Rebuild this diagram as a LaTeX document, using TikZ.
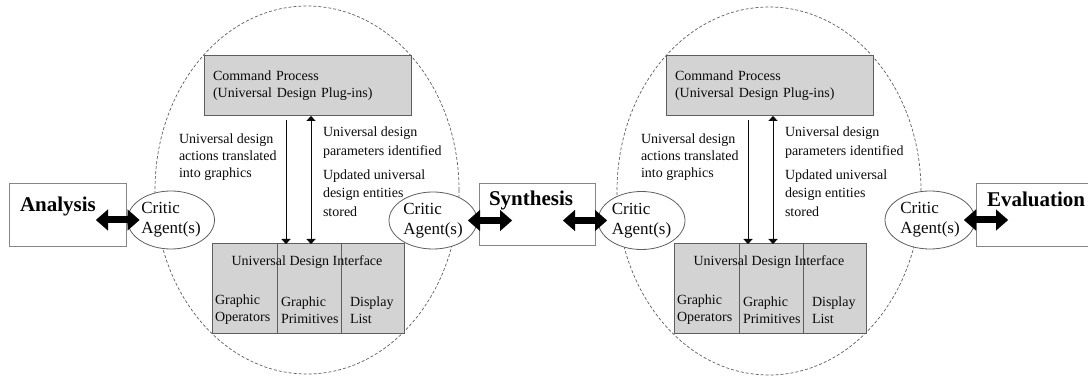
\documentclass[tikz,border=0pt]{standalone}
\usepackage{fontspec}
\setmainfont{Liberation Serif}
\usetikzlibrary{arrows.meta,shapes.geometric,calc}

\definecolor{boxgray}{HTML}{D3D3D3}
\definecolor{edgegray}{HTML}{5E5E5E}
\definecolor{inkgray}{HTML}{0A0A0A}

\begin{document}
\begin{tikzpicture}[x=1pt,y=-1pt,
  every node/.style={inner sep=0pt, outer sep=0pt},
  phasebox/.style={rectangle, draw=edgegray!75, line width=0.9pt, fill=white},
  phasetext/.style={font=\fontsize{21}{24}\selectfont\bfseries, text=black, anchor=base west},
  critic/.style={ellipse, draw=edgegray, line width=0.8pt, fill=white,
    minimum width=87pt, minimum height=58pt, align=left,
    font=\fontsize{17}{20}\selectfont, text=inkgray},
  cyclering/.style={draw=edgegray, dash pattern=on 3pt off 2pt, line width=0.7pt},
  procbox/.style={rectangle, draw=edgegray, line width=1pt, fill=boxgray},
  small/.style={font=\fontsize{14}{17}\selectfont, text=inkgray, align=left},
  smallwide/.style={font=\fontsize{14}{18.5}\selectfont, text=inkgray, align=left},
  bigarrow/.style={line width=7pt,
    {Triangle[length=12pt,width=21pt,line width=0.01pt]}-{Triangle[length=12pt,width=21pt,line width=0.01pt]}},
  downflow/.style={draw=inkgray, line width=0.8pt, shorten <=4pt,
    -{Triangle[length=5pt,width=9pt,line width=0.01pt]}},
  bothflow/.style={draw=inkgray, line width=0.8pt,
    {Triangle[length=5pt,width=9pt,line width=0.01pt]}-{Triangle[length=5pt,width=9pt,line width=0.01pt]}}
]
\useasboundingbox (0,0) rectangle (1088,379);

% the two design cycles (dashed)
\draw[cyclering] (307,190) ellipse [x radius=152, y radius=184];
\draw[cyclering] (769,191) ellipse [x radius=152, y radius=184];

% phase boxes
\node[phasebox, minimum width=117pt, minimum height=63pt] (ana) at (67.5,214.5) {};
\node[phasetext] (anat) at (20,212) {Analysis};
\node[phasebox, minimum width=116pt, minimum height=62pt] (syn) at (537,214) {};
\node[phasetext] (synt) at (489,206) {Synthesis};
\node[phasebox, minimum width=150pt, minimum height=63pt] (eva) at (1051,214.5) {};
\node[phasetext] (evat) at (987,207) {Evaluation};

% critic agents
\node[critic] (cr1) at (171,220) {Critic\\Agent(s)};
\node[critic, minimum width=88pt, minimum height=57pt] (cr2) at (433,220.5) {Critic\\Agent(s)};
\node[critic] (cr3) at (641.5,220.5) {Critic\\Agent(s)};
\node[critic, minimum width=90pt] (cr4) at (930,220) {Critic\\Agent(s)};

% two-way links between phases and critics
\draw[bigarrow] ($(ana.east |- cr1.west)+(-30,0)$) -- ($(cr1.west)+(12,0)$);
\draw[bigarrow] ($(cr2.east)+(-9,0)$) -- ($(cr2.east -| syn.west)+(33,0)$);
\draw[bigarrow] ($(syn.east |- cr3.west)+(-32,0)$) -- ($(cr3.west)+(9,0)$);
\draw[bigarrow] ($(cr4.east)+(-11,0)$) -- ($(cr4.east -| eva.west)+(32,0)$);

% inside each cycle: command process and universal design interface
\foreach \u/\dx in {1/0, 2/462} {
  \node[procbox, minimum width=207pt, minimum height=60pt, text width=189pt,
        small, font=\fontsize{14}{17}\selectfont] (cmd\u) at (307.5+\dx,86)
        {Command Process\\(Universal Design Plug-ins)};

  \node[procbox, minimum width=65pt, minimum height=90pt] (op\u) at (244.5+\dx,289) {};
  \node[procbox, minimum width=64pt, minimum height=90pt] (prim\u) at (309+\dx,289) {};
  \node[procbox, minimum width=63pt, minimum height=90pt] (disp\u) at (372.5+\dx,289) {};

  \node[small] (udi\u) at (307+\dx,262) {Universal Design Interface};
  \node[small, anchor=west] (opt\u) at (215+\dx,310) {Graphic\\Operators};
  \node[small, anchor=west] (primt\u) at (281+\dx,310) {Graphic\\Primitives};
  \node[small, anchor=west] (dispt\u) at (350+\dx,310) {Display\\List};

  \draw[downflow] ([xshift=-21.5pt]cmd\u.south) -- ([xshift=-21.5pt]cmd\u.south |- prim\u.north);
  \draw[bothflow] ([xshift=3.5pt]cmd\u.south) -- ([xshift=3.5pt]cmd\u.south |- prim\u.north);

  \node[small, anchor=west] (lbla\u) at (179+\dx,157) {Universal design\\actions translated\\into graphics};
  \node[smallwide, anchor=west] (lblb\u) at (323+\dx,142.5) {Universal design\\parameters identified};
  \node[smallwide, anchor=west] (lblc\u) at (323+\dx,193) {Updated universal\\design entities\\stored};
}
\end{tikzpicture}
\end{document}
